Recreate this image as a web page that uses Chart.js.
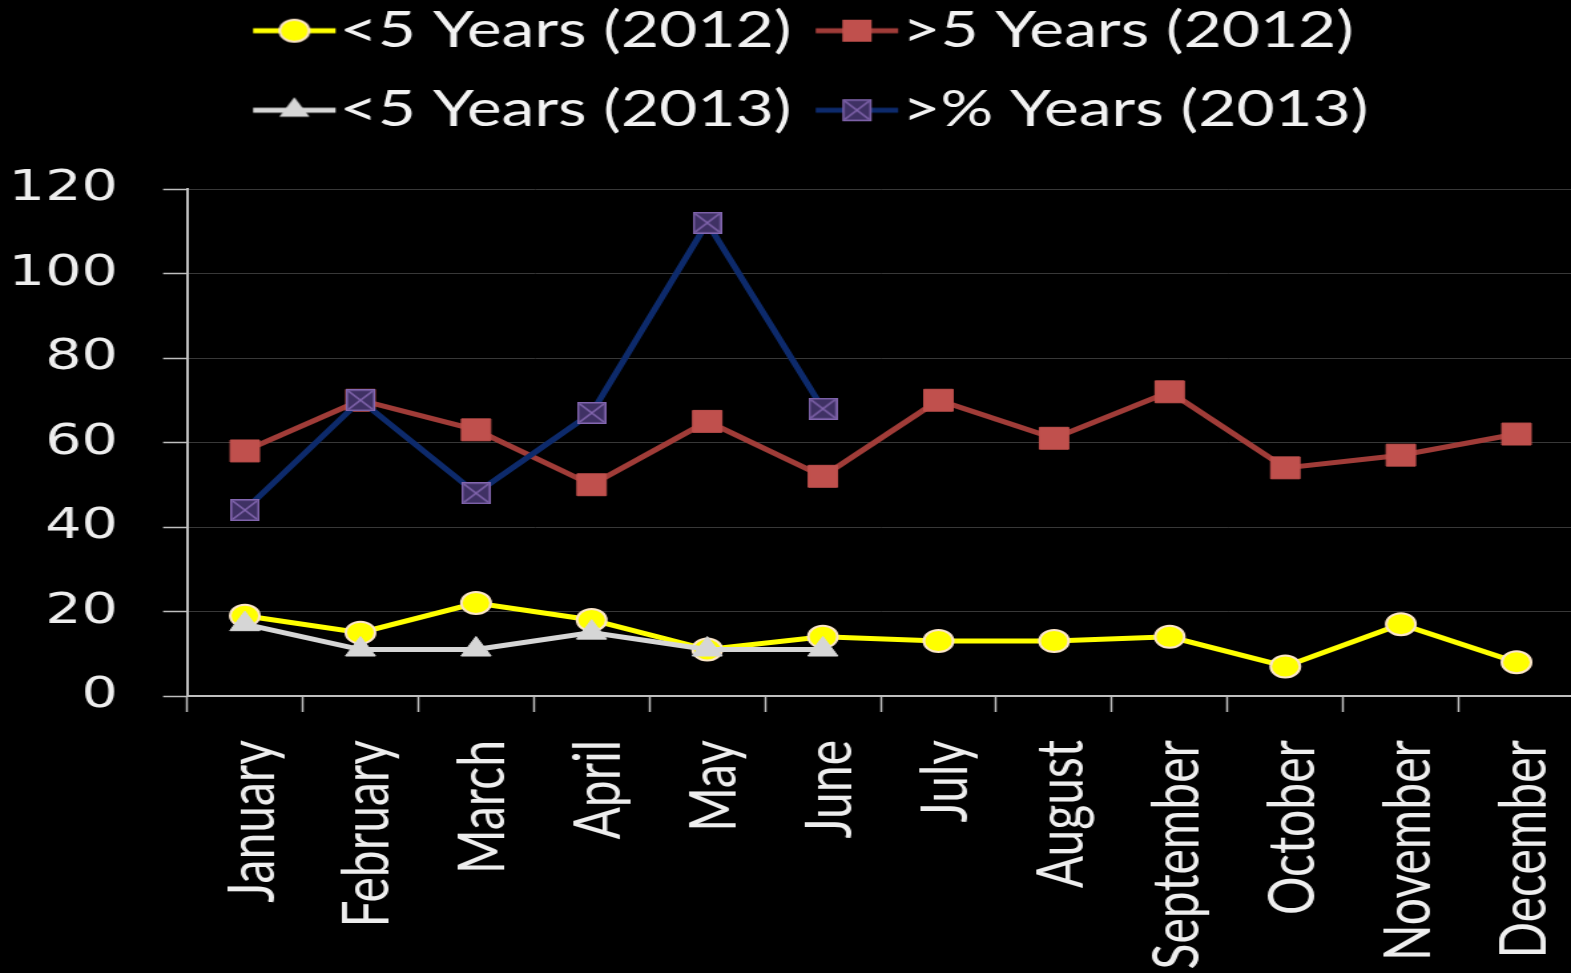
<!DOCTYPE html>
<html>
<head>
<meta charset="utf-8">
<script src="https://cdn.jsdelivr.net/npm/chart.js@4.4.0/dist/chart.umd.min.js"></script>
<style>
  html, body { margin: 0; padding: 0; background: #000; overflow: hidden; }
  #wrap { width: 1571px; height: 973px; overflow: hidden; }
  /* the original picture is stretched sideways, so draw narrow and stretch */
  #chart { transform-origin: 0 0; transform: scaleX(1.3302); }
</style>
</head>
<body>
<div id="wrap"><canvas id="chart" width="1200" height="973"></canvas></div>
<script>
var months = ["January", "February", "March", "April", "May", "June",
              "July", "August", "September", "October", "November", "December"];
var under5_2012 = [19, 15, 22, 18, 11, 14, 13, 13, 14, 7, 17, 8];
var over5_2012  = [58, 70, 63, 50, 65, 52, 70, 61, 72, 54, 57, 62];
var under5_2013 = [17, 11, 11, 15, 11, 11];
var over5_2013  = [44, 70, 48, 67, 112, 68];
var yTicks = [0, 20, 40, 60, 80, 100, 120];

var YELLOW = "#ffff00", RED_LINE = "#a03c38", RED_MARK = "#c0504d",
    GREY = "#d6d6d6", NAVY = "#0d2a6b";

// square with an x, like the office marker
function navyMark(size) {
    var c = document.createElement("canvas");
    c.width = size; c.height = size;
    var g = c.getContext("2d");
    g.fillStyle = "#3f3164";
    g.fillRect(0, 0, size, size);
    g.strokeStyle = "#8467b0";
    g.lineWidth = 1.5;
    g.strokeRect(0.75, 0.75, size - 1.5, size - 1.5);
    g.beginPath();
    g.moveTo(2, 2); g.lineTo(size - 2, size - 2);
    g.moveTo(size - 2, 2); g.lineTo(2, size - 2);
    g.stroke();
    return c;
}
var navyImg = navyMark(22);

// legend symbol: short line with the marker on it
function legendImage(lineColor, drawMark) {
    var c = document.createElement("canvas");
    c.width = 74; c.height = 40;
    var g = c.getContext("2d");
    g.strokeStyle = lineColor;
    g.lineWidth = 5;
    g.beginPath(); g.moveTo(11, 20); g.lineTo(73, 20); g.stroke();
    drawMark(g, 42, 20);
    return c;
}

var legendImgs = [
    legendImage(YELLOW, function (g, x, y) {
        g.beginPath(); g.arc(x, y, 11, 0, Math.PI * 2);
        g.fillStyle = YELLOW; g.fill();
        g.lineWidth = 2; g.strokeStyle = "#fbe5c8"; g.stroke();
    }),
    legendImage(RED_LINE, function (g, x, y) {
        g.fillStyle = RED_MARK; g.fillRect(x - 11, y - 11, 22, 22);
    }),
    legendImage(GREY, function (g, x, y) {
        g.beginPath();
        g.moveTo(x, y - 13); g.lineTo(x + 11.3, y + 6.5); g.lineTo(x - 11.3, y + 6.5);
        g.closePath();
        g.fillStyle = GREY; g.fill();
    }),
    legendImage(NAVY, function (g, x, y) {
        g.drawImage(navyImg, x - 11, y - 11);
    })
];

// fixed legend height so the plot starts where the original one does,
// rows start at the same x like in the original
var legendTweak = {
    id: "legendTweak",
    beforeLayout: function (chart) {
        var lg = chart.legend;
        if (lg && !lg._patched) {
            var orig = lg.fit;
            lg.fit = function () { orig.call(this); this.height = 213; };
            lg._patched = true;
        }
    },
    afterLayout: function (chart) {
        var lg = chart.legend;
        lg.left += 172;
        lg.right += 172;
    }
};

var ctx = document.getElementById("chart");

var data = {
    labels: months,
    datasets: [
        {
            label: "<5 Years (2012)",
            data: under5_2012,
            borderColor: YELLOW,
            backgroundColor: YELLOW,
            borderWidth: 5,
            pointStyle: "circle",
            pointRadius: 11,
            pointBackgroundColor: YELLOW,
            pointBorderColor: "#fbe5c8",
            pointBorderWidth: 2,
            order: 4
        },
        {
            label: ">5 Years (2012)",
            data: over5_2012,
            borderColor: RED_LINE,
            backgroundColor: RED_MARK,
            borderWidth: 5,
            pointStyle: "rect",
            pointRadius: 15.5,
            pointBackgroundColor: RED_MARK,
            pointBorderColor: RED_MARK,
            pointBorderWidth: 1,
            order: 3
        },
        {
            label: "<5 Years (2013)",
            data: under5_2013,
            borderColor: GREY,
            backgroundColor: GREY,
            borderWidth: 5,
            pointStyle: "triangle",
            pointRadius: 13,
            pointBackgroundColor: GREY,
            pointBorderColor: GREY,
            pointBorderWidth: 1,
            order: 2
        },
        {
            label: ">% Years (2013)",
            data: over5_2013,
            borderColor: NAVY,
            backgroundColor: NAVY,
            borderWidth: 5,
            pointStyle: navyImg,
            pointRadius: 11,
            order: 1
        }
    ]
};

var options = {
    responsive: false,
    animation: false,
    devicePixelRatio: 1,
    layout: { padding: { top: -24, left: 0, right: 0, bottom: 0 } },
    elements: { line: { tension: 0, fill: false } },
    plugins: {
        tooltip: { enabled: false },
        legend: {
            display: true,
            position: "top",
            align: "start",
            labels: {
                usePointStyle: true,
                pointStyleWidth: 28.6,
                padding: 30,
                color: "#f2f2f2",
                font: { family: "Lato", size: 49.5 },
                generateLabels: function (chart) {
                    var items = Chart.defaults.plugins.legend.labels.generateLabels(chart);
                    items.forEach(function (it) {
                        it.pointStyle = legendImgs[it.datasetIndex];
                        it.fontColor = "#f2f2f2";
                    });
                    items.sort(function (a, b) { return a.datasetIndex - b.datasetIndex; });
                    return items;
                }
            }
        }
    },
    scales: {
        x: {
            type: "category",
            offset: true,
            afterFit: function (s) {
                s.height = 277;
                s.paddingLeft = 0;
                s.paddingRight = 0;
            },
            grid: {
                offset: true,
                drawOnChartArea: false,
                tickColor: "#bfbfbf",
                tickLength: 16,
                tickWidth: 1.5
            },
            border: { color: "#bfbfbf", width: 2 },
            ticks: {
                color: "#eeeeee",
                font: { family: "Lato", size: 48 },
                minRotation: 90,
                maxRotation: 90,
                autoSkip: false,
                labelOffset: 6,
                padding: 28
            }
        },
        y: {
            min: 0,
            max: 120,
            afterBuildTicks: function (s) {
                s.ticks = yTicks.map(function (v) { return { value: v }; });
            },
            afterFit: function (s) { s.width = 140.6; },
            grid: {
                color: function (c) { return c.tick && c.tick.value === 0 ? "rgba(0,0,0,0)" : "#383838"; },
                lineWidth: 1,
                tickColor: "#bfbfbf",
                tickLength: 18,
                tickWidth: 1.5
            },
            border: { color: "#bfbfbf", width: 2 },
            ticks: {
                color: "#eeeeee",
                font: { family: "DejaVu Sans", size: 43 },
                padding: 34
            }
        }
    }
};

var chart = new Chart(ctx, {
    type: "line",
    data: data,
    options: options,
    plugins: [legendTweak]
});
</script>
</body>
</html>
